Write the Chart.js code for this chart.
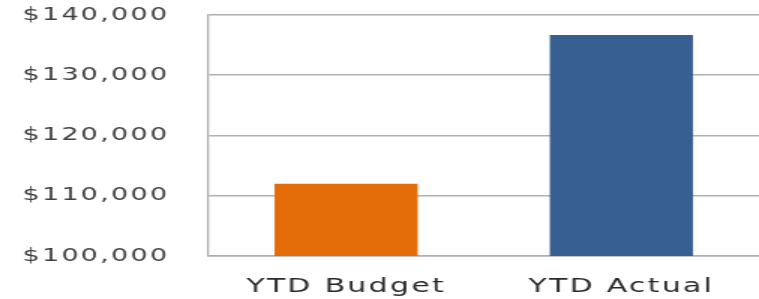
<!DOCTYPE html>
<html>
<head>
<meta charset="utf-8">
<script src="https://cdn.jsdelivr.net/npm/chart.js@4"></script>
<style>
  html, body { margin: 0; padding: 0; background: #fff; overflow: hidden; }
  /* the reference is squashed into a wide frame, so draw narrow and stretch sideways */
  #ytdChart { display: block; transform: scaleX(1.5); transform-origin: 0 0; }
</style>
</head>
<body>
<canvas id="ytdChart" width="506" height="299"></canvas>
<script>
// YTD budget vs actual
const categories = ['YTD Budget', 'YTD Actual'];
const amounts = [112000, 136700];
const barColors = ['#E36C09', '#375F91'];
const yMin = 100000;
const yMax = 140000;
const yStep = 10000;

// a little extra room between letters, like the wide font in the picture
const looseText = {
    id: 'looseText',
    beforeLayout(chart) { chart.ctx.letterSpacing = '1.5px'; },
    beforeDraw(chart) { chart.ctx.letterSpacing = '1.5px'; }
};

document.addEventListener('DOMContentLoaded', () => {
    const ctx = document.getElementById('ytdChart').getContext('2d');

    new Chart(ctx, {
        type: 'bar',
        data: {
            labels: categories,
            datasets: [{
                data: amounts,
                backgroundColor: barColors,
                borderWidth: 0,
                barPercentage: 0.52,
                categoryPercentage: 1
            }]
        },
        options: {
            responsive: false,
            animation: false,
            layout: {
                padding: { left: 15, top: 15, right: 0, bottom: 0 }
            },
            scales: {
                y: {
                    min: yMin,
                    max: yMax,
                    afterFit: scale => { scale.width = 124; },
                    ticks: {
                        stepSize: yStep,
                        padding: 0,
                        crossAlign: 'far',
                        color: '#404040',
                        font: { family: 'DejaVu Sans', size: 18 },
                        callback: v => '$' + v.toLocaleString('en-US')
                    },
                    grid: { color: '#b0b0b0', lineWidth: 1.6, drawTicks: false },
                    border: { color: '#b0b0b0', width: 1.3 }
                },
                x: {
                    afterFit: scale => { scale.height = 43; },
                    ticks: {
                        padding: 11,
                        color: '#2a2a2a',
                        font: { family: 'DejaVu Sans', size: 20 }
                    },
                    grid: { display: false },
                    border: { color: '#b0b0b0', width: 1.6 }
                }
            },
            plugins: {
                legend: { display: false },
                tooltip: { enabled: false }
            }
        },
        plugins: [looseText]
    });
});
</script>
</body>
</html>
